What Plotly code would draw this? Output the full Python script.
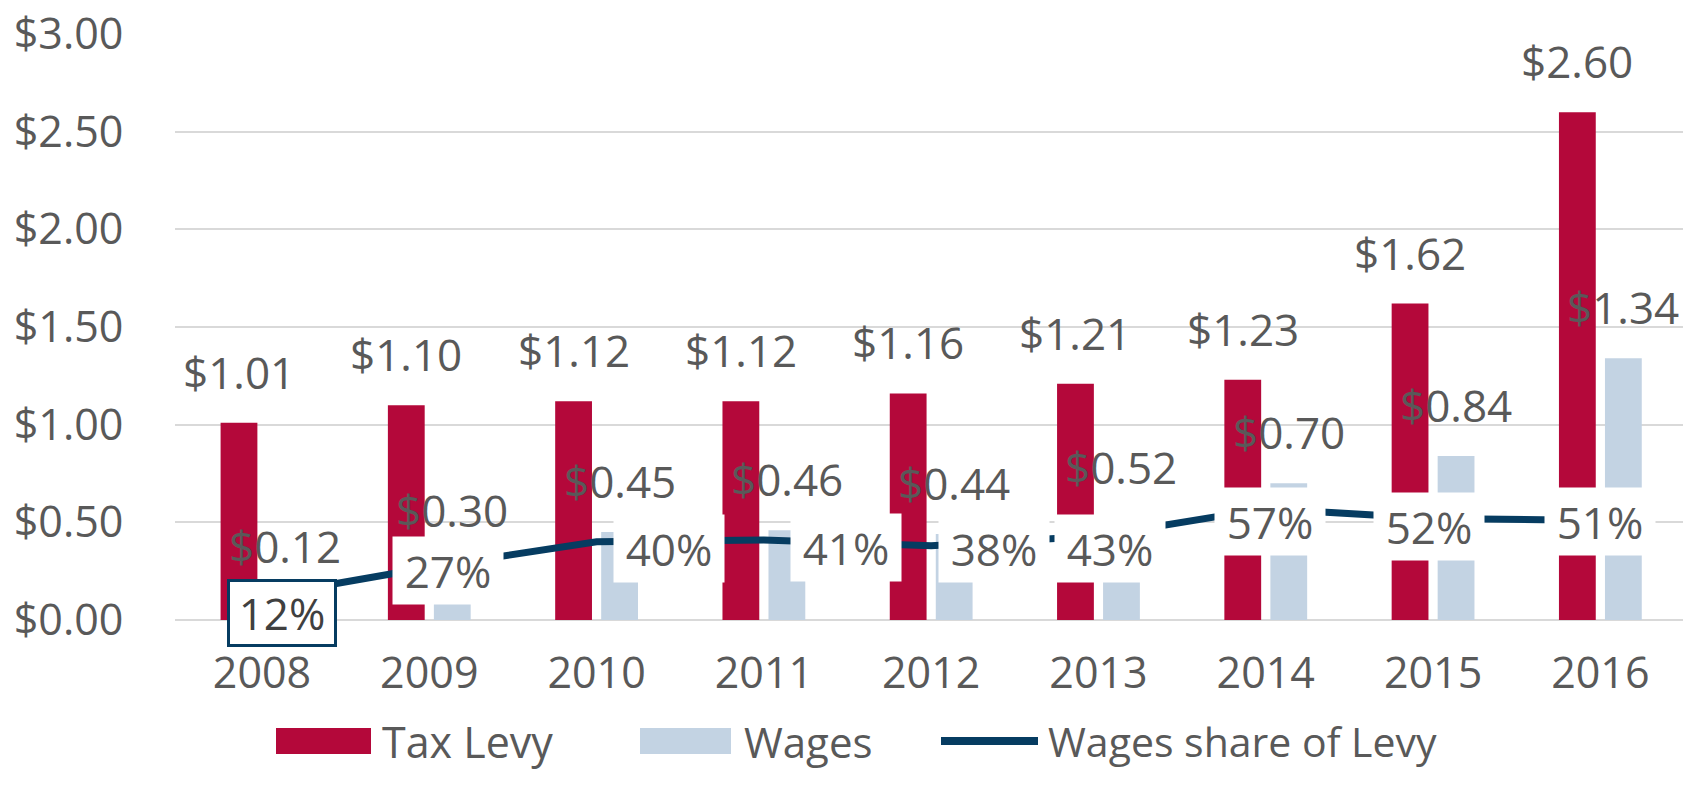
import plotly.graph_objects as go

years = ["2008", "2009", "2010", "2011", "2012", "2013", "2014", "2015", "2016"]
tax_levy = [1.01, 1.10, 1.12, 1.12, 1.16, 1.21, 1.23, 1.62, 2.60]
wages = [0.12, 0.30, 0.45, 0.46, 0.44, 0.52, 0.70, 0.84, 1.34]
wages_share = [0.12, 0.27, 0.40, 0.41, 0.38, 0.43, 0.57, 0.52, 0.51]

# label placement styling (pixel offsets of the % boxes from their points)
pct_dx = [20, 18.5, 72, 82, 63, 11.5, 4, -4.5, 0]
pct_dy = [16.5, 3, 7, 7.5, 2.5, 12.5, 13, 8, 1.5]

RED = "#B4083A"
BLUE = "#C3D3E3"
NAVY = "#063C61"
GRAY = "#595959"
FONT = "Open Sans"

W, H = 1686, 796
L, R, T, B = 175, 3, 34, 176
PW, PH = W - L - R, H - T - B

fig = go.Figure()
fig.add_trace(go.Bar(x=years, y=tax_levy, name="Tax Levy", marker_color=RED,
                     marker_line_width=0))
fig.add_trace(go.Bar(x=years, y=wages, name="Wages", marker_color=BLUE,
                     marker_line_width=0))
fig.add_trace(go.Scatter(x=years, y=wages_share, name="Wages share of Levy",
                         mode="lines", line=dict(color=NAVY, width=7)))

ann = []
# value labels above bars (x given as category index)
for i, v in enumerate(tax_levy):
    ann.append(dict(x=i, y=v, xref="x", yref="y", text=f"${v:.2f}", showarrow=False,
                    yanchor="bottom", xanchor="center", xshift=-23, yshift=19,
                    font=dict(family=FONT, size=44, color=GRAY)))
for i, v in enumerate(wages):
    ann.append(dict(x=i, y=v, xref="x", yref="y", text=f"${v:.2f}", showarrow=False,
                    yanchor="bottom", xanchor="center", xshift=23, yshift=19,
                    font=dict(family=FONT, size=44, color=GRAY)))
# percentage labels
for i, v in enumerate(wages_share):
    d = dict(x=i, y=v, xref="x", yref="y", text=f"{round(v*100)}%", showarrow=False,
             xanchor="center", yanchor="middle", xshift=pct_dx[i], yshift=-pct_dy[i],
             width=110, height=67, bgcolor="white", borderpad=0,
             font=dict(family=FONT, size=44, color=GRAY))
    if i == 0:
        d.update(width=104, height=62, bordercolor=NAVY, borderwidth=3,
                 font=dict(family=FONT, size=44, color="#404040"))
    ann.append(d)

# legend (drawn manually)
def px(xp):
    return (xp - L) / PW
def py(yp):
    return (H - B - yp) / PH

LEG_Y = 741
shapes = [
    dict(type="rect", xref="paper", yref="paper", x0=px(276), x1=px(371), y0=py(LEG_Y + 13), y1=py(LEG_Y - 13),
         fillcolor=RED, line_width=0),
    dict(type="rect", xref="paper", yref="paper", x0=px(640), x1=px(731), y0=py(LEG_Y + 13), y1=py(LEG_Y - 13),
         fillcolor=BLUE, line_width=0),
    dict(type="line", xref="paper", yref="paper", x0=px(941), x1=px(1038), y0=py(LEG_Y), y1=py(LEG_Y),
         line=dict(color=NAVY, width=8)),
]
for txt, xl, fs in [("Tax Levy", 380, 43), ("Wages", 742, 42), ("Wages share of Levy", 1046, 41)]:
    ann.append(dict(x=px(xl), y=py(LEG_Y), xref="paper", yref="paper", text=txt, showarrow=False,
                    xanchor="left", yanchor="middle",
                    font=dict(family=FONT, size=fs, color=GRAY)))

fig.update_layout(
    width=W, height=H,
    margin=dict(l=L, r=R, t=T, b=B, autoexpand=False),
    plot_bgcolor="white", paper_bgcolor="white",
    barmode="group", bargap=0.45, bargroupgap=0.2,
    showlegend=False,
    annotations=ann, shapes=shapes,
    font=dict(family=FONT, color=GRAY),
)
fig.update_xaxes(type="category", range=[-0.52, 8.494], showgrid=False, showline=False,
                 ticks="outside", ticklen=15, tickcolor="rgba(0,0,0,0)",
                 tickfont=dict(family=FONT, size=43, color=GRAY))
fig.update_yaxes(range=[0, 3], dtick=0.5, tickprefix="$", tickformat=".2f",
                 showgrid=True, gridcolor="#D9D9D9", gridwidth=2,
                 zeroline=True, zerolinecolor="#D9D9D9", zerolinewidth=2,
                 ticks="outside", ticklen=42, tickcolor="rgba(0,0,0,0)",
                 tickfont=dict(family=FONT, size=43, color=GRAY))

fig.write_html("out.html", config={"displayModeBar": False},
               post_script="document.body.style.margin='0';document.body.style.overflow='hidden';")
